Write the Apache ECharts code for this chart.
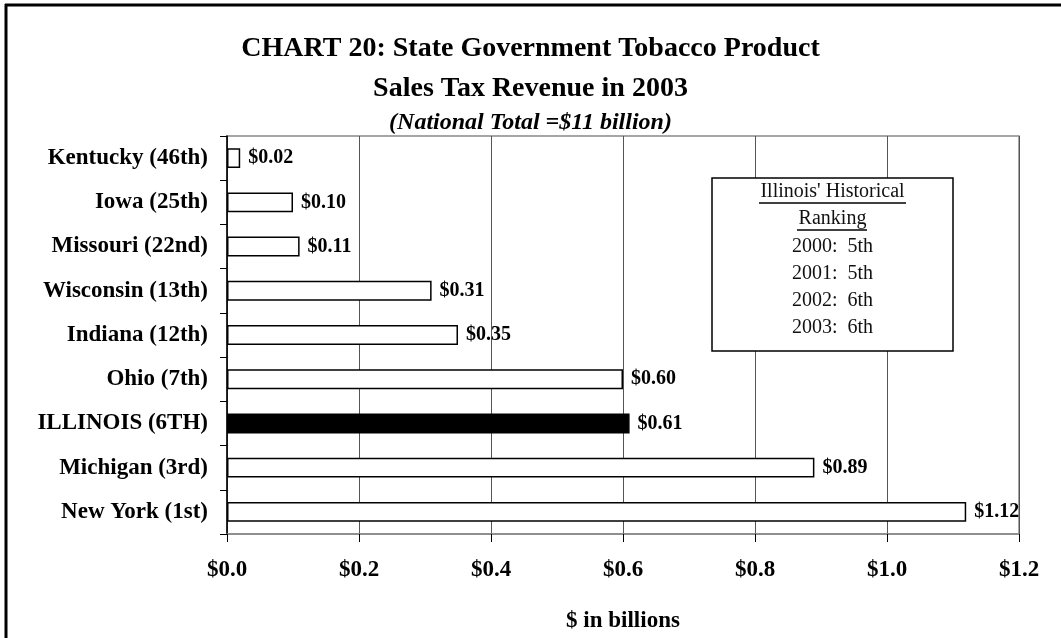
<!DOCTYPE html>
<html>
<head>
<meta charset="utf-8">
<script src="https://cdn.jsdelivr.net/npm/echarts@6/dist/echarts.min.js"></script>
<style>
  html, body { margin: 0; padding: 0; background: #fff; }
  #chart { width: 1061px; height: 638px; }
</style>
</head>
<body>
<div id="chart"></div>
<script>
// Tobacco product sales tax revenue, 2003, $ billions
const states = ['Kentucky (46th)', 'Iowa (25th)', 'Missouri (22nd)', 'Wisconsin (13th)',
  'Indiana (12th)', 'Ohio (7th)', 'ILLINOIS (6TH)', 'Michigan (3rd)', 'New York (1st)'];
const revenue = [0.02, 0.10, 0.11, 0.31, 0.35, 0.60, 0.61, 0.89, 1.12];
const highlight = 'ILLINOIS (6TH)';

const titleLines = ['CHART 20: State Government Tobacco Product', 'Sales Tax Revenue in 2003'];
const subtitle = '(National Total =$11 billion)';
const axisTitle = '$ in billions';

const rankHeading = ["Illinois' Historical", 'Ranking'];
const rankYears = ['2000', '2001', '2002', '2003'];
const rankPlaces = ['5th', '5th', '6th', '6th'];

const serif = '"Liberation Serif", "Times New Roman", serif';

const chart = echarts.init(document.getElementById('chart'));

// ranking note box
const boxX = 712, boxY = 178, boxW = 241, boxH = 173, cx = boxX + boxW / 2;
const note = [{
  type: 'rect', shape: { x: boxX, y: boxY, width: boxW, height: boxH },
  style: { fill: '#fff', stroke: '#000', lineWidth: 1.5 }, z: 10
}];
const noteLines = rankHeading.concat(rankYears.map((y, i) => y + ':  ' + rankPlaces[i]));
noteLines.forEach((t, i) => {
  note.push({
    type: 'text', x: cx, y: boxY + 14 + i * 27.2, z: 11,
    style: { text: t, font: '20px ' + serif, fill: '#111', align: 'center', verticalAlign: 'middle' }
  });
});
// underlines for the heading
[[759, 906, 203], [797, 867, 230]].forEach(u => {
  note.push({ type: 'line', z: 11, shape: { x1: u[0], y1: u[2], x2: u[1], y2: u[2] },
    style: { stroke: '#000', lineWidth: 1.3 } });
});

const titleFont = { fontFamily: serif, fontWeight: 'bold', fontSize: 28, color: '#000' };

chart.setOption({
  animation: false,
  backgroundColor: '#fff',
  title: [
    { text: titleLines[0], left: 'center', top: 30, textStyle: titleFont },
    { text: titleLines[1], left: 'center', top: 70, textStyle: titleFont },
    { text: subtitle, left: 'center', top: 106,
      textStyle: { fontFamily: serif, fontWeight: 'bold', fontStyle: 'italic', fontSize: 24, color: '#000' } }
  ],
  grid: { left: 227, right: 42, top: 136, bottom: 102, show: true, borderColor: '#888', borderWidth: 1.5 },
  xAxis: {
    type: 'value', min: 0, max: 1.2, interval: 0.2,
    name: axisTitle, nameLocation: 'middle', nameGap: 76,
    nameTextStyle: { fontFamily: serif, fontWeight: 'bold', fontSize: 23, color: '#000' },
    axisLine: { show: true, lineStyle: { color: '#888', width: 1.5 } },
    axisTick: { show: true, length: 8, lineStyle: { color: '#000' } },
    axisLabel: { margin: 25, fontFamily: serif, fontWeight: 'bold', fontSize: 23, color: '#000',
      formatter: v => '$' + v.toFixed(1) },
    splitLine: { show: true, lineStyle: { color: '#555', width: 1 } }
  },
  yAxis: {
    type: 'category', data: states, inverse: true,
    axisLine: { show: true, lineStyle: { color: '#000', width: 1.5 } },
    axisTick: { show: true, length: 7, inside: false, lineStyle: { color: '#000' } },
    axisLabel: { margin: 19, fontFamily: serif, fontWeight: 'bold', fontSize: 23, color: '#000' },
    splitLine: { show: false }
  },
  series: [{
    type: 'bar', barWidth: '45%',
    data: revenue.map((v, i) => ({
      value: v,
      itemStyle: states[i] === highlight
        ? { color: '#000', borderColor: '#000', borderWidth: 1.5 }
        : { color: '#fff', borderColor: '#000', borderWidth: 1.5 }
    })),
    label: { show: true, position: 'right', distance: 8, fontFamily: serif, fontWeight: 'bold',
      fontSize: 20, color: '#000', formatter: p => '$' + p.value.toFixed(2) }
  }],
  graphic: [
    { type: 'line', shape: { x1: 5, y1: 5, x2: 1061, y2: 5 }, style: { stroke: '#000', lineWidth: 3 } },
    { type: 'line', shape: { x1: 6, y1: 4, x2: 6, y2: 638 }, style: { stroke: '#000', lineWidth: 3 } }
  ].concat(note)
});
</script>
</body>
</html>
